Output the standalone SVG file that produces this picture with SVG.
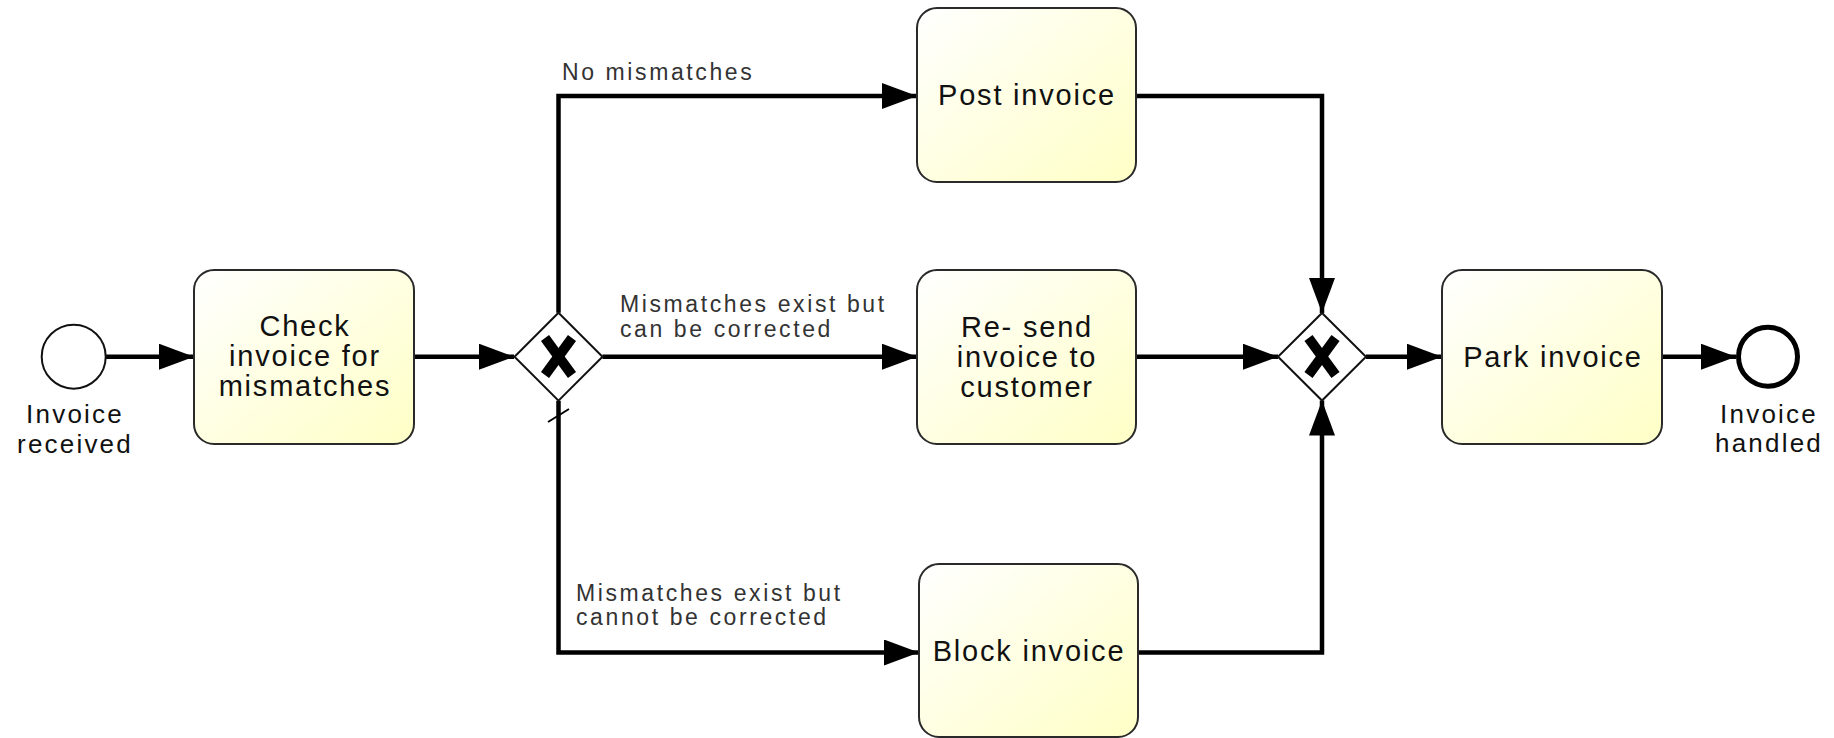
<svg xmlns="http://www.w3.org/2000/svg" width="1834" height="738" viewBox="0 0 1834 738">
<defs>
<linearGradient id="taskFill" x1="0" y1="0" x2="1" y2="1">
<stop offset="0" stop-color="#ffffff"/>
<stop offset="1" stop-color="#ffffc6"/>
</linearGradient>
<marker id="arrow" markerUnits="userSpaceOnUse" markerWidth="36" markerHeight="26" refX="35" refY="13" orient="auto">
<path d="M0,0 L35,13 L0,26 Z" fill="#000"/>
</marker>
<style>
.task{fill:url(#taskFill);stroke:#2a2a2a;stroke-width:2}
.tt{font-family:"Liberation Sans",Arial,sans-serif;font-size:29px;letter-spacing:1.8px;fill:#111;text-anchor:middle}
.ev{font-family:"Liberation Sans",Arial,sans-serif;font-size:26px;letter-spacing:2.2px;fill:#111;text-anchor:middle}
.lbl{font-family:"Liberation Sans",Arial,sans-serif;font-size:23px;letter-spacing:2.6px;fill:#333}
.gw{fill:#fff;stroke:#111;stroke-width:2}
.gx{stroke:#000;stroke-width:10;stroke-linecap:butt}
.flow{fill:none;stroke:#000;stroke-width:4.5;stroke-linejoin:miter;marker-end:url(#arrow)}
</style>
</defs>
<rect width="1834" height="738" fill="#fff"/>

<g id="connectors">
<path class="flow" d="M106,356.7 L194,356.7"/>
<path class="flow" d="M414,356.7 L514,356.7"/>
<path class="flow" d="M558.5,312.7 L558.5,96 L917,96"/>
<path class="flow" d="M602.5,356.7 L917,356.7"/>
<path class="flow" d="M558.5,400.7 L558.5,652.5 L919,652.5"/>
<line x1="548" y1="422" x2="569" y2="409" stroke="#000" stroke-width="2"/>
<path class="flow" d="M1136,96 L1322,96 L1322,313"/>
<path class="flow" d="M1136,356.7 L1278,356.7"/>
<path class="flow" d="M1138,652.5 L1322,652.5 L1322,400.5"/>
<path class="flow" d="M1366,356.7 L1442,356.7"/>
<path class="flow" d="M1662,356.7 L1736,356.7"/>
<text class="lbl" x="562" y="80">No mismatches</text>
<text class="lbl" x="620" y="312">Mismatches exist but</text>
<text class="lbl" x="620" y="337">can be corrected</text>
<text class="lbl" x="576" y="601">Mismatches exist but</text>
<text class="lbl" x="576" y="625">cannot be corrected</text>
</g>

<g id="start">
<circle cx="73.7" cy="356.7" r="32" fill="#fff" stroke="#111" stroke-width="2"/>
<text class="ev" x="75" y="423">Invoice</text>
<text class="ev" x="75" y="453">received</text>
</g>

<g id="check">
<rect class="task" x="194" y="270" width="220" height="174" rx="20"/>
<text class="tt" x="305" y="336">Check</text>
<text class="tt" x="305" y="366">invoice for</text>
<text class="tt" x="305" y="396">mismatches</text>
</g>

<g id="gateway1">
<polygon class="gw" points="558.5,312.7 602.5,356.7 558.5,400.7 514.5,356.7"/>
<line class="gx" x1="545" y1="338" x2="572" y2="375"/>
<line class="gx" x1="572" y1="338" x2="545" y2="375"/>
</g>

<g id="post">
<rect class="task" x="917" y="8" width="219" height="174" rx="20"/>
<text class="tt" x="1027" y="105">Post invoice</text>
</g>

<g id="resend">
<rect class="task" x="917" y="270" width="219" height="174" rx="20"/>
<text class="tt" x="1027" y="337">Re- send</text>
<text class="tt" x="1027" y="367">invoice to</text>
<text class="tt" x="1027" y="397">customer</text>
</g>

<g id="block">
<rect class="task" x="919" y="564" width="219" height="173" rx="20"/>
<text class="tt" x="1029" y="661">Block invoice</text>
</g>

<g id="gateway2">
<polygon class="gw" points="1322,313 1366,356.7 1322,400.5 1278,356.7"/>
<line class="gx" x1="1308.5" y1="338" x2="1335.5" y2="375"/>
<line class="gx" x1="1335.5" y1="338" x2="1308.5" y2="375"/>
</g>

<g id="park">
<rect class="task" x="1442" y="270" width="220" height="174" rx="20"/>
<text class="tt" x="1553" y="367">Park invoice</text>
</g>

<g id="end">
<circle cx="1768" cy="356.7" r="29.5" fill="#fff" stroke="#000" stroke-width="5"/>
<text class="ev" x="1769" y="423">Invoice</text>
<text class="ev" x="1769" y="452">handled</text>
</g>
</svg>
